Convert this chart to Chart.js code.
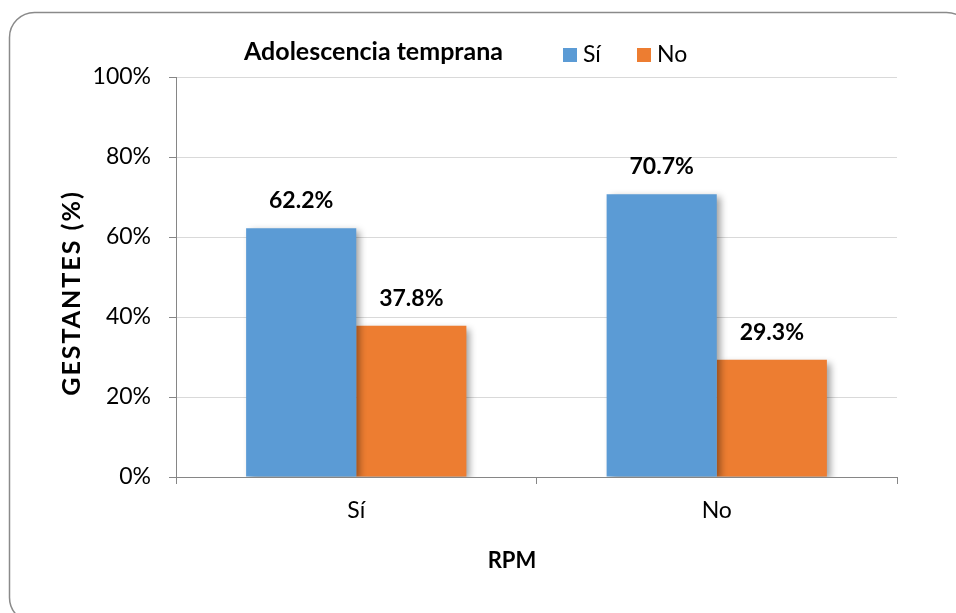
<!DOCTYPE html>
<html>
<head>
<meta charset="utf-8">
<script src="https://cdn.jsdelivr.net/npm/chart.js@4.4.1/dist/chart.umd.min.js"></script>
<style>
  html, body { margin: 0; padding: 0; background: #ffffff; }
  #wrap { width: 956px; height: 613px; position: relative; }
</style>
</head>
<body>
<div id="wrap"><canvas id="c" width="956" height="613"></canvas></div>
<script>
// Categories (RPM) and series (adolescencia temprana: Sí / No)
const categories = ['Sí', 'No'];
const seriesNames = ['Sí', 'No'];
const siValues = [62.2, 70.7];
const noValues = [37.8, 29.3];
const seriesColors = ['#5B9BD5', '#ED7D31'];
const yTickValues = [0, 20, 40, 60, 80, 100];
const chartTitle = 'Adolescencia temprana';
const xAxisTitle = 'RPM';
const yAxisTitle = 'GESTANTES (%)';

const FONT = 'Lato, "Open Sans", sans-serif';

// Rounded outer frame of the chart
const framePlugin = {
  id: 'frame',
  beforeDraw(chart) {
    const ctx = chart.ctx;
    ctx.save();
    ctx.fillStyle = '#ffffff';
    ctx.fillRect(0, 0, chart.width, chart.height);
    ctx.beginPath();
    ctx.roundRect(9.5, 12.5, 962, 610, 25);
    ctx.strokeStyle = '#8a8a8a';
    ctx.lineWidth = 1.5;
    ctx.stroke();
    ctx.restore();
  }
};

// Soft drop shadow under each bar
const barShadowPlugin = {
  id: 'barShadow',
  beforeDatasetDraw(chart) {
    const ctx = chart.ctx;
    ctx.save();
    ctx.shadowColor = 'rgba(0,0,0,0.38)';
    ctx.shadowBlur = 7;
    ctx.shadowOffsetX = 4;
    ctx.shadowOffsetY = 3;
  },
  afterDatasetDraw(chart) {
    chart.ctx.restore();
  }
};

// Value labels above the bars
const valueLabelPlugin = {
  id: 'valueLabels',
  afterDatasetsDraw(chart) {
    const ctx = chart.ctx;
    ctx.save();
    ctx.font = 'bold 23px ' + FONT;
    ctx.fillStyle = '#000000';
    ctx.textAlign = 'center';
    ctx.textBaseline = 'alphabetic';
    chart.data.datasets.forEach((ds, i) => {
      const meta = chart.getDatasetMeta(i);
      meta.data.forEach((bar, j) => {
        ctx.fillText(ds.data[j].toFixed(1) + '%', bar.x, bar.y - 20);
      });
    });
    ctx.restore();
  }
};

// Title, inline legend and axis titles
const headerPlugin = {
  id: 'header',
  afterDraw(chart) {
    const ctx = chart.ctx;
    ctx.save();
    ctx.fillStyle = '#000000';
    ctx.textBaseline = 'alphabetic';
    ctx.textAlign = 'left';
    ctx.font = 'bold 25px ' + FONT;
    ctx.fillText(chartTitle, 244, 60);

    const legendX = [563, 637];
    ctx.font = '23px ' + FONT;
    chart.data.datasets.forEach((ds, i) => {
      const x = legendX[i];
      ctx.fillStyle = ds.backgroundColor;
      ctx.fillRect(x, 48, 14, 14);
      ctx.fillStyle = '#000000';
      ctx.fillText(ds.label, x + 20, 62);
    });

    ctx.textAlign = 'center';
    ctx.font = 'bold 22px ' + FONT;
    ctx.fillText(xAxisTitle, 512, 568);

    // vertical axis title, reading bottom to top
    ctx.translate(80, 293);
    ctx.rotate(-Math.PI / 2);
    ctx.font = 'bold 25px ' + FONT;
    ctx.letterSpacing = '2px';
    ctx.fillText(yAxisTitle, 0, 0);
    ctx.restore();
  }
};

new Chart(document.getElementById('c'), {
  type: 'bar',
  data: {
    labels: categories,
    datasets: [
      { label: seriesNames[0], data: siValues, backgroundColor: seriesColors[0] },
      { label: seriesNames[1], data: noValues, backgroundColor: seriesColors[1] }
    ]
  },
  options: {
    responsive: false,
    animation: false,
    devicePixelRatio: 1,
    layout: { padding: { left: 44, top: 77, right: 59, bottom: 0 } },
    datasets: {
      bar: { categoryPercentage: 0.611, barPercentage: 1.0, borderWidth: 0 }
    },
    plugins: {
      legend: { display: false },
      title: { display: false },
      tooltip: { enabled: false }
    },
    scales: {
      x: {
        afterFit(scale) { scale.height = 613 - 477; },
        grid: {
          offset: true,
          drawOnChartArea: false,
          drawTicks: true,
          tickLength: 7,
          tickColor: '#868686'
        },
        border: { color: '#868686', width: 1 },
        ticks: {
          color: '#000000',
          font: { family: FONT, size: 23 },
          padding: 13
        }
      },
      y: {
        min: 0,
        max: 100,
        afterFit(scale) { scale.width = 176 - 44; },
        afterBuildTicks(scale) {
          scale.ticks = yTickValues.map(v => ({ value: v }));
        },
        grid: {
          color: '#d9d9d9',
          tickColor: '#868686',
          tickLength: 7,
          drawTicks: true
        },
        border: { color: '#868686', width: 1 },
        ticks: {
          color: '#000000',
          font: { family: FONT, size: 23 },
          padding: 18,
          callback: v => v + '%'
        }
      }
    }
  },
  plugins: [framePlugin, barShadowPlugin, valueLabelPlugin, headerPlugin]
});
</script>
</body>
</html>
